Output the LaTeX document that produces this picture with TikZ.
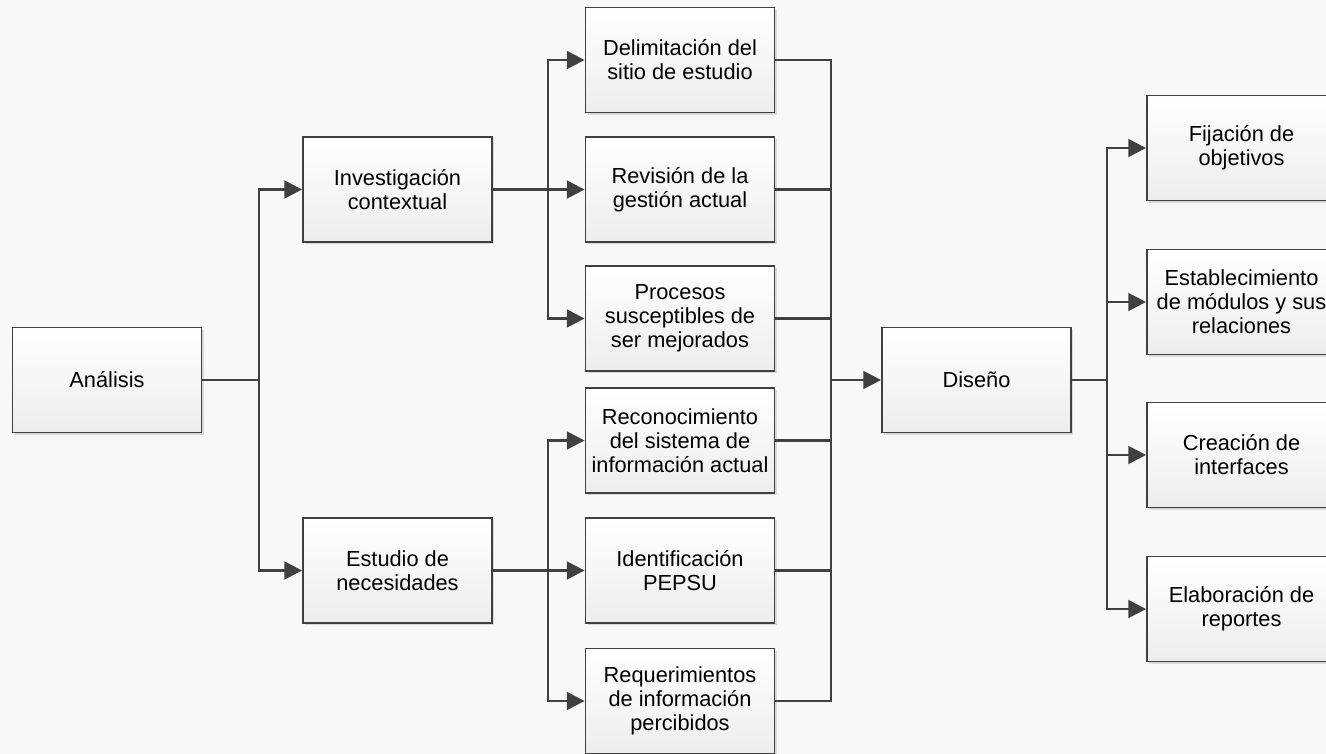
\documentclass[tikz,border=0pt]{standalone}
\usepackage{fontspec}
\setmainfont{Liberation Sans}
\usetikzlibrary{arrows.meta,shadows,positioning}
\definecolor{linegray}{HTML}{404040}
\definecolor{boxgray}{HTML}{EDEDED}
\definecolor{bggray}{HTML}{F8F8F8}

\begin{document}
\begin{tikzpicture}[x=0.02cm, y=-0.02cm, every node/.style={align=center},
  stage/.style={rectangle, draw=linegray, line width=1.1pt, top color=white, bottom color=boxgray,
    minimum width=3.78cm, minimum height=2.1cm, font=\fontsize{12.4}{13.7}\selectfont,
    drop shadow={shadow xshift=1.3pt, shadow yshift=-1.3pt, fill=black, opacity=0.12}},
  link/.style={draw=linegray, line width=1.5pt},
  flow/.style={link, -{Triangle[length=10pt, width=10pt]}}]
				\fill[bggray] (0,0) rectangle (1326,754);
				\clip (0,0) rectangle (1326,754);
				\useasboundingbox (0,0) rectangle (1326,754);

				% Nodes
				\node (analisis) [stage] at (107,380) {Análisis};
				\node (investigacion) [stage] at (397.5,189.5) {Investigación\\contextual};
				\node (estudio) [stage] at (397.5,570.5) {Estudio de\\necesidades};

				\node (delimitacion) [stage] at (680,60) {Delimitación del\\sitio de estudio};
				\node (revision) [stage] at (680,189.5) {Revisión de la\\gestión actual};
				\node (procesos) [stage] at (680,318.5) {Procesos\\susceptibles de\\ser mejorados};
				\node (reconocimiento) [stage] at (680,440.5) {Reconocimiento\\del sistema de\\información actual};
				\node (identificacion) [stage] at (680,570.5) {Identificación\\PEPSU};
				\node (requerimientos) [stage] at (680,701) {Requerimientos\\de información\\percibidos};

				\node (diseno) [stage] at (976.5,380) {Diseño};

				\node (fijacion) [stage] at (1241.5,148) {Fijación de\\objetivos};
				\node (establecimiento) [stage] at (1241.5,302) {Establecimiento\\de módulos y sus\\relaciones};
				\node (creacion) [stage] at (1241.5,455) {Creación de\\interfaces};
				\node (elaboracion) [stage] at (1241.5,609) {Elaboración de\\reportes};

				% Junctions
				\coordinate (fork1) at (259,380);
				\coordinate (fork2) at (548,189.5);
				\coordinate (fork3) at (548,570.5);
				\coordinate (merge) at (831,380);
				\coordinate (fork4) at (1107,380);

				% Arrows
				\draw[link] (analisis) -- (fork1);
				\draw[flow] (fork1) |- (investigacion);
				\draw[flow] (fork1) |- (estudio);

				\draw[link] (investigacion) -- (fork2);
				\draw[flow] (fork2) |- (delimitacion);
				\draw[flow] (fork2) -- (revision);
				\draw[flow] (fork2) |- (procesos);

				\draw[link] (estudio) -- (fork3);
				\draw[flow] (fork3) |- (reconocimiento);
				\draw[flow] (fork3) -- (identificacion);
				\draw[flow] (fork3) |- (requerimientos);

				\draw[link] (delimitacion) -| (merge);
				\draw[link] (revision) -| (merge);
				\draw[link] (procesos) -| (merge);
				\draw[link] (reconocimiento) -| (merge);
				\draw[link] (identificacion) -| (merge);
				\draw[link] (requerimientos) -| (merge);
				\draw[flow] (merge) -- (diseno);

				\draw[link] (diseno) -- (fork4);
				\draw[flow] (fork4) |- (fijacion);
				\draw[flow] (fork4) |- (establecimiento);
				\draw[flow] (fork4) |- (creacion);
				\draw[flow] (fork4) |- (elaboracion);
			\end{tikzpicture}
\end{document}
